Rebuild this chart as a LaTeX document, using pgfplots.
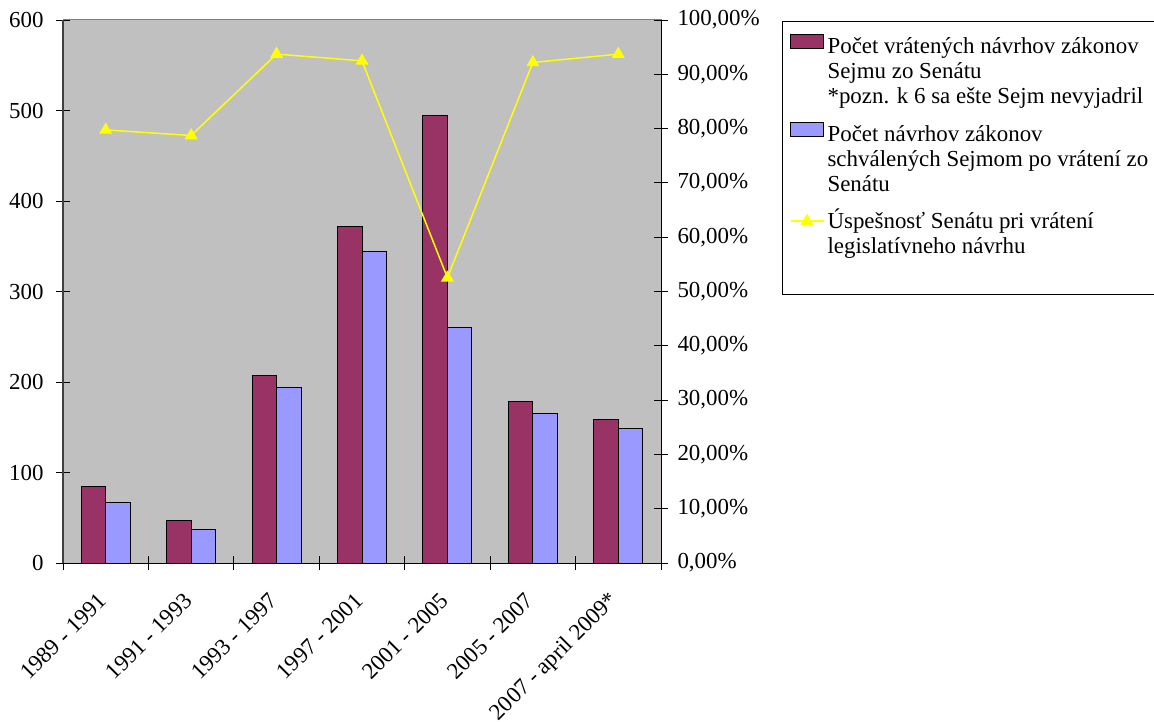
\documentclass[border=0pt]{standalone}
\usepackage{fontspec}
\setmainfont{Liberation Serif}
\usepackage{pgfplots}
\pgfplotsset{compat=1.18}
\definecolor{barA}{HTML}{993366}
\definecolor{barB}{HTML}{9999FF}
\definecolor{plotbg}{HTML}{C0C0C0}
\definecolor{lineY}{HTML}{FFFF00}
\pgfplotsset{lineleg/.style={legend image code/.code={\draw[mark repeat=2, mark phase=2, ##1] plot coordinates {(0bp,59bp) (16.5bp,59bp) (33bp,59bp)};}}}
\begin{document}
\begin{tikzpicture}
\pgfplotsset{
  base/.style={
    at={(0,0)}, anchor=south west,
    width=598bp, height=543bp, scale only axis,
    xmin=-0.5, xmax=6.5,
    tick align=center,
    major tick length=14bp, minor tick length=14bp,
    tick style={black, line width=0.8bp},
    ticklabel style={font=\fontsize{23}{27}\selectfont},
    /pgf/number format/assume math mode=true,
  }
}
\begin{axis}[base,
  ymin=0, ymax=600,
  ytick={0,100,200,300,400,500,600},
  xtick={-0.5,0.5,1.5,2.5,3.5,4.5,5.5,6.5},
  xticklabels={},
  extra x ticks={0,1,2,3,4,5,6},
  extra x tick labels={1989 - 1991, 1991 - 1993, 1993 - 1997, 1997 - 2001, 2001 - 2005, 2005 - 2007, 2007 - april 2009*},
  extra x tick style={major tick length=0pt, xticklabel style={xshift=-3bp, yshift=-34bp, rotate=45, anchor=east, inner sep=0pt}},
  axis x line*=bottom, axis y line*=left,
  x axis line style={black, line width=1bp},
  y axis line style={black!75, line width=1.2bp},
  yticklabel style={xshift=-9bp},
  axis background/.style={fill=plotbg, draw=gray, line width=1bp},
]
\addplot[ybar, bar width=0.287, bar shift=-0.1435, fill=barA, draw=black, line width=1bp]
  coordinates {(0,84) (1,47) (2,207) (3,372) (4,495) (5,179) (6,159)};
\addplot[ybar, bar width=0.287, bar shift=0.1435, fill=barB, draw=black, line width=1bp]
  coordinates {(0,67) (1,37) (2,194) (3,344) (4,260) (5,165) (6,149)};
\end{axis}
\begin{axis}[base,
  ymin=0, ymax=1,
  axis y line*=right, axis x line=none,
  y axis line style={black, line width=1bp},
  ytick={0,0.1,0.2,0.3,0.4,0.5,0.6,0.7,0.8,0.9,1},
  yticklabels={{0,00\%},{10,00\%},{20,00\%},{30,00\%},{40,00\%},{50,00\%},{60,00\%},{70,00\%},{80,00\%},{90,00\%},{100,00\%}},
  yticklabel style={xshift=6bp},
  legend style={at={(1.2023,0.9982)}, anchor=north west, draw=black, line width=1bp,
    inner xsep=7.3bp, inner ysep=13bp,
    font=\fontsize{23}{25}\selectfont,
    row sep=0pt, column sep=3.3bp,
    nodes={inner sep=0pt, anchor=base west}},
]
\addlegendimage{legend image code/.code={\draw[fill=barA, draw=black, line width=1bp] (0bp,54.4bp) rectangle (33bp,68.4bp);}}
\addlegendentry{\begin{tabular}[b]{@{}l@{}}Počet vrátených návrhov zákonov\\Sejmu zo Senátu\\{}*pozn. k 6 sa ešte Sejm nevyjadril\end{tabular}}
\addlegendimage{legend image code/.code={\draw[fill=barB, draw=black, line width=1bp] (0bp,54.4bp) rectangle (33bp,68.4bp);}}
\addlegendentry{\begin{tabular}[b]{@{}l@{}}\rule{0pt}{36.6bp}Počet návrhov zákonov\\schválených Sejmom po vrátení zo\hspace{15bp}\\Senátu\end{tabular}}
\addplot[lineY, line width=1.5bp, mark=triangle*, mark size=6bp, mark options={fill=lineY, draw=lineY}, lineleg]
  coordinates {(0,0.7976) (1,0.7872) (2,0.9372) (3,0.9247) (4,0.5253) (5,0.9218) (6,0.9371)};
\addlegendentry{\begin{tabular}[b]{@{}l@{}}\rule{0pt}{36bp}Úspešnosť Senátu pri vrátení\\legislatívneho návrhu\\\rule{0pt}{19bp}\end{tabular}}
\end{axis}
\pgfresetboundingbox
\useasboundingbox (-63bp,-159bp) rectangle (1091bp,563bp);
\end{tikzpicture}
\end{document}
